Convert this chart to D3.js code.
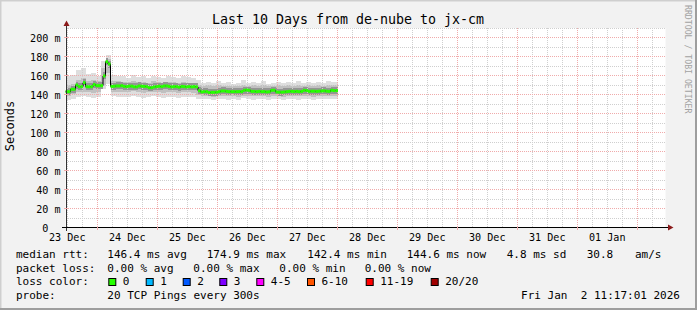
<!DOCTYPE html>
<html><head><meta charset="utf-8">
<script src="https://cdn.jsdelivr.net/npm/d3@7"></script>
<style>
html,body{margin:0;padding:0;background:#f2f2f2}
svg{display:block}
text{font-family:"DejaVu Sans Mono",monospace;fill:#000}
</style>
</head><body><svg id="c" width="697" height="310"></svg>
<script>
// ---------------- data ----------------
const titleText = "Last 10 Days from de-nube to jx-cm";
const yAxisTitle = "Seconds";
const watermark = "RRDTOOL / TOBI OETIKER";
const endTime = new Date(Date.UTC(2026, 0, 2, 11, 17, 1));
const spanDays = 10;
const yMax = 210.5;
const yTickValues = [0, 20, 40, 60, 80, 100, 120, 140, 160, 180, 200];

// median RTT (ms), one value per hour from the start of the window
const medianStepHours = 1;
const median = [
 143.5,143.5,146,146,150.5,148.8,148.8,153,148.8,148.6,
 148.8,151,149.8,149.8,149.8,160,175,172.6,149,149.2,
 149.5,149.5,149.8,149,148.8,149.3,149.3,148.6,148.6,149.5,
 149.2,149,148.8,147.7,147.7,148.5,148.8,149.2,148.8,149.5,
 149.5,149,148.5,148.8,148.8,148.2,149,148.8,148.5,148.8,
 148.5,148.8,148.5,144.5,143.2,143.5,143.5,142.6,142.8,142.8,
 143,143.5,144.2,144.2,143.8,143.5,143.5,143.5,143.5,143.6,
 143.5,144.9,145.2,144.9,143.8,143.8,143.5,143.8,143.5,143.6,
 143.2,143.4,144.9,145,143.2,143,143,143.2,143.5,143.8,
 143.8,143.6,143.8,143.5,143.8,144.9,144.6,143.8,144,144,
 143.8,144,144.2,144.4,144,143.8,145,144.6,144.6
];

// smoke (ping spread, ms), one value per 2 hours
const smokeStepHours = 2;
const smokeHi = [160,161,166,168,162,163,160,176,182,161,160,160,158,161,159,160,158,160,159,158,160,159,158,160,159,158,156,153,154,153,155,153,154,152,153,156,153,154,153,155,152,153,154,153,154,153,155,153,154,153,154,153,155,154,154];
const smokeLo = [135,136,138,139,138,137,138,146,152,139,138,138,138,139,138,137,138,139,138,137,138,138,137,138,138,138,136,136,136,135,136,136,135,136,135,137,136,135,136,136,135,136,136,135,136,136,135,136,136,135,136,136,136,136,136];
const coreHi  = [150,152,156,158,155,156,155,168,178,155,155,154,154,155,154,154,153,155,154,153,154,154,153,154,153,153,151,149,150,149,150,149,149,149,149,150,149,150,149,150,149,149,150,149,150,149,150,149,150,149,150,149,150,150,150];
const coreLo  = [139,141,143,143,143,142,143,150,163,143,143,143,143,144,143,142,143,143,143,142,143,143,142,143,143,142,140,139,139,138,139,139,139,139,138,139,139,139,139,139,138,139,139,138,139,139,139,139,139,138,139,139,139,139,139];

// legend
const legendRtt = ["median rtt:", "146.4 ms avg", "174.9 ms max", "142.4 ms min", "144.6 ms now", "4.8 ms sd", "30.8", "am/s"];
const legendLoss = ["packet loss:", "0.00 % avg", "0.00 % max", "0.00 % min", "0.00 % now"];
const lossLabels = ["0", "1", "2", "3", "4-5", "6-10", "11-19", "20/20"];
const lossColors = ["#26ff00", "#00b8ff", "#0059ff", "#7e00ff", "#ff00ff", "#ff5500", "#ff0000", "#a00000"];
const probeText = ["probe:", "20 TCP Pings every 300s"];
const dateText = "Fri Jan  2 11:17:01 2026";

// ---------------- layout ----------------
const W = 697, H = 310;
const plot = {left: 65.5, right: 665.5, top: 28, bottom: 228};
const svg = d3.select("#c");
const HOUR = 3600e3;
const startTime = new Date(endTime.getTime() - spanDays * 24 * HOUR);

const x = d3.scaleUtc().domain([startTime, endTime]).range([plot.left, plot.right]);
const y = d3.scaleLinear().domain([0, yMax]).range([plot.bottom, plot.top]);

// background & frame
svg.append("rect").attr("width", W).attr("height", H).attr("fill", "#f2f2f2");
svg.append("path").attr("d", `M0.5,${H}V0.5H${W}`).attr("stroke", "#cfcfcf").attr("stroke-width", 2).attr("fill", "none");
svg.append("path").attr("d", `M0,${H-1}H${W-1}V0`).attr("stroke", "#9e9e9e").attr("stroke-width", 2).attr("fill", "none");
svg.append("rect").attr("x", plot.left).attr("y", plot.top).attr("width", plot.right - plot.left)
  .attr("height", plot.bottom - plot.top).attr("fill", "#ffffff");

// smoke
const dataEnd = new Date(startTime.getTime() + median.length * medianStepHours * HOUR);
const smokeG = svg.append("g").attr("shape-rendering", "crispEdges");
function smokeLayer(hi, lo, color) {
  smokeG.append("g").selectAll("rect").data(hi).join("rect")
    .attr("x", (d, i) => x(new Date(startTime.getTime() + i * smokeStepHours * HOUR)))
    .attr("width", (d, i) => {
      const t0 = new Date(startTime.getTime() + i * smokeStepHours * HOUR);
      let t1 = new Date(startTime.getTime() + (i + 1) * smokeStepHours * HOUR);
      if (t1 > dataEnd) t1 = dataEnd;
      return Math.max(0, x(t1) - x(t0));
    })
    .attr("y", d => y(d))
    .attr("height", (d, i) => y(lo[i]) - y(d))
    .attr("fill", color);
}
smokeLayer(smokeHi, smokeLo, "#dedede");
smokeLayer(coreHi, coreLo, "#c0c0c0");
// dark core hugging the median
smokeG.append("g").selectAll("rect").data(median).join("rect")
  .attr("x", (d, i) => x(new Date(startTime.getTime() + i * medianStepHours * HOUR)))
  .attr("width", (d, i) => x(new Date(startTime.getTime() + (i + 1) * medianStepHours * HOUR)) - x(new Date(startTime.getTime() + i * medianStepHours * HOUR)))
  .attr("y", d => y(d) - 3.5)
  .attr("height", 7)
  .attr("fill", "#959595");

// grid
const gridG = svg.append("g").attr("shape-rendering", "crispEdges");
const minorX = d3.utcHour.every(6).range(startTime, endTime);
const majorX = d3.utcDay.range(startTime, endTime);
const crisp = v => Math.floor(v) + 0.5;
gridG.selectAll(".mx").data(minorX).join("line")
  .attr("x1", d => crisp(x(d))).attr("x2", d => crisp(x(d)))
  .attr("y1", plot.top).attr("y2", plot.bottom)
  .attr("stroke", "#cfcfcf").attr("stroke-dasharray", "1,1");
const minorY = d3.range(10, yMax, 20);
gridG.selectAll(".my").data(minorY).join("line")
  .attr("y1", d => crisp(y(d))).attr("y2", d => crisp(y(d)))
  .attr("x1", plot.left).attr("x2", plot.right)
  .attr("stroke", "#cfcfcf").attr("stroke-dasharray", "1,1");
gridG.selectAll(".Mx").data(majorX).join("line")
  .attr("x1", d => crisp(x(d))).attr("x2", d => crisp(x(d)))
  .attr("y1", plot.top).attr("y2", plot.bottom)
  .attr("stroke", "#f0abab").attr("stroke-dasharray", "1,1");
gridG.selectAll(".My").data(yTickValues.filter(v => v > 0)).join("line")
  .attr("y1", d => crisp(y(d))).attr("y2", d => crisp(y(d)))
  .attr("x1", plot.left).attr("x2", plot.right)
  .attr("stroke", "#f0abab").attr("stroke-dasharray", "1,1");

// median line (step) + loss-coloured bars
const medPts = median.map((v, i) => [new Date(startTime.getTime() + i * medianStepHours * HOUR), v]);
medPts.push([dataEnd, median[median.length - 1]]);
svg.append("path").datum(medPts)
  .attr("d", d3.line().x(d => x(d[0])).y(d => y(d[1])).curve(d3.curveStepAfter))
  .attr("fill", "none").attr("stroke", "#000").attr("stroke-width", 1);
svg.append("g").selectAll("rect").data(median).join("rect")
  .attr("x", (d, i) => x(medPts[i][0]))
  .attr("width", (d, i) => x(medPts[i + 1][0]) - x(medPts[i][0]))
  .attr("y", d => y(d) - 1.5).attr("height", 3)
  .attr("fill", lossColors[0]);

// axes
const axG = svg.append("g").attr("shape-rendering", "crispEdges");
axG.append("line").attr("x1", 66.5).attr("x2", 66.5).attr("y1", 231).attr("y2", 25).attr("stroke", "#333");
axG.append("line").attr("x1", 62).attr("x2", 669).attr("y1", 227.5).attr("y2", 227.5).attr("stroke", "#000");
svg.append("path").attr("d", "M63.5,26L66.5,20.5L69.5,26Z").attr("fill", "#8b1a1a");
svg.append("path").attr("d", "M668,224.5L673.5,227.5L668,230.5Z").attr("fill", "#8b1a1a");
// ticks on axes
axG.selectAll(".tx").data(majorX).join("line")
  .attr("x1", d => crisp(x(d))).attr("x2", d => crisp(x(d)))
  .attr("y1", 226).attr("y2", 230).attr("stroke", "#f0abab");
axG.selectAll(".ty").data(yTickValues.filter(v => v > 0)).join("line")
  .attr("y1", d => crisp(y(d))).attr("y2", d => crisp(y(d)))
  .attr("x1", 64).attr("x2", 69).attr("stroke", "#f0abab");

// y labels
const axisFont = 10.1, cw = axisFont * 0.602;
svg.append("g").selectAll("text").data(yTickValues).join("text")
  .attr("x", d => d === 0 ? 60.5 - 2 * cw : 60.5)
  .attr("y", d => y(d) + 3.6)
  .attr("text-anchor", "end").attr("font-size", axisFont)
  .text(d => d === 0 ? "0" : d + " m");

// x labels (centered at noon)
const labelDays = d3.utcDay.range(d3.utcDay.floor(startTime), endTime)
  .map(d => new Date(d.getTime() + 12 * HOUR)).filter(d => d >= startTime && d <= endTime);
svg.append("g").selectAll("text").data(labelDays).join("text")
  .attr("x", d => x(d)).attr("y", 240.5)
  .attr("text-anchor", "middle").attr("font-size", axisFont)
  .text(d3.utcFormat("%d %b"));

// title
svg.append("text").attr("x", 348).attr("y", 24).attr("text-anchor", "middle")
  .attr("font-size", 13.3).text(titleText);
// y axis title
svg.append("text").attr("transform", "translate(14,126) rotate(-90)")
  .attr("text-anchor", "middle").attr("font-size", 12).text(yAxisTitle);
// watermark
svg.append("text").attr("transform", "translate(684.5,5) rotate(90)")
  .attr("font-size", 8.2).style("fill", "#a2a2a2").text(watermark);

// legend
const lf = 11;
const rowY = [257.7, 271.5, 285.3, 299.2];
const rttX = [16, 107.3, 206.7, 307.3, 406.7, 506.7, 586.7, 635];
svg.append("g").selectAll("text").data(legendRtt).join("text")
  .attr("x", (d, i) => rttX[i]).attr("y", rowY[0]).attr("font-size", lf).text(d => d);
const lossX = [16, 107.3, 193.3, 279.3, 364.7];
svg.append("g").selectAll("text").data(legendLoss).join("text")
  .attr("x", (d, i) => lossX[i]).attr("y", rowY[1]).attr("font-size", lf).text(d => d);
svg.append("text").attr("x", 16).attr("y", rowY[2]).attr("font-size", lf).text("loss color:");
const boxX = [108.3, 145.7, 182.7, 219.3, 256.3, 307, 365.7, 430.7];
const lg = svg.append("g");
lossLabels.forEach((lab, i) => {
  lg.append("rect").attr("x", boxX[i] + 0.5).attr("y", 278.5).attr("width", 7).attr("height", 7)
    .attr("fill", lossColors[i]).attr("stroke", "#000").attr("stroke-width", 1);
  lg.append("text").attr("x", boxX[i] + 14.5).attr("y", rowY[2]).attr("font-size", lf).text(lab);
});
svg.append("text").attr("x", 16).attr("y", rowY[3]).attr("font-size", lf).text(probeText[0]);
svg.append("text").attr("x", 107.3).attr("y", rowY[3]).attr("font-size", lf).text(probeText[1]);
svg.append("text").attr("x", 680).attr("y", rowY[3]).attr("text-anchor", "end")
  .attr("font-size", lf).style("white-space", "pre").text(dateText);
</script>
</body></html>
